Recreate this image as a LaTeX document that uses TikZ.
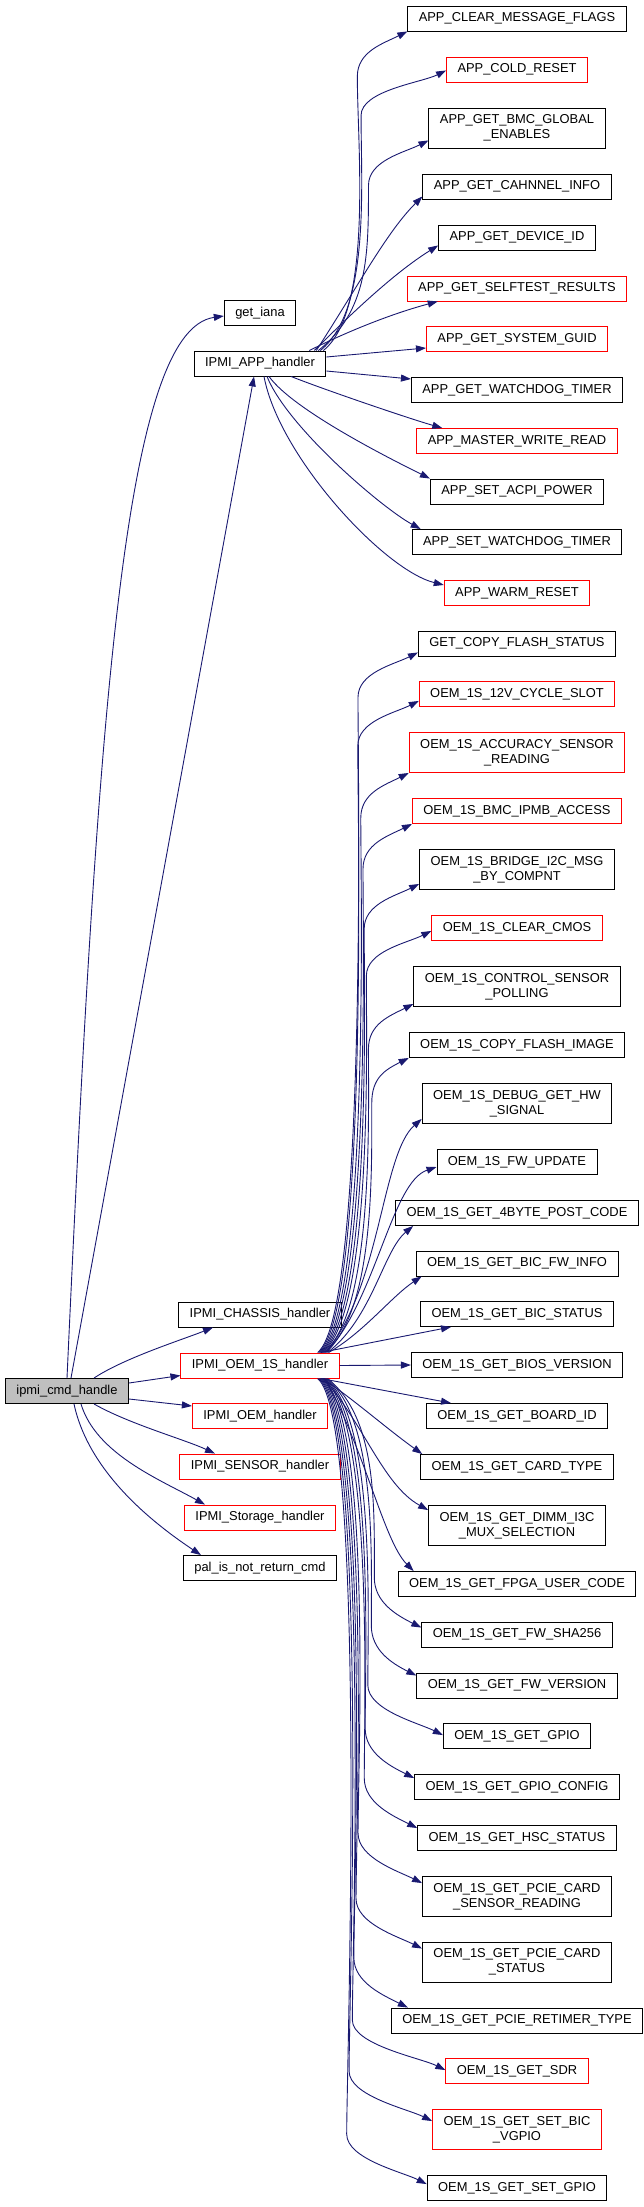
\documentclass[tikz,border=0pt]{standalone}
\usepackage{fontspec}
\setmainfont{Liberation Sans}
\usetikzlibrary{arrows.meta,calc}
\definecolor{edgeblue}{RGB}{25,25,112}
\definecolor{truncred}{RGB}{255,0,0}
\definecolor{rootgray}{RGB}{191,191,191}
\tikzset{
  fn/.style={draw=black,line width=0.9pt,fill=white,inner xsep=11pt,inner ysep=5pt,minimum height=25pt,align=center,font=\fontsize{12.9pt}{15pt}\selectfont},
  fntwo/.style={fn,minimum height=40pt},
  trunc/.style={draw=truncred},
  root/.style={fill=rootgray},
  call/.style={edgeblue,line width=0.9pt,-{Triangle[length=10pt,width=7pt]}}
}
\begin{document}
\begin{tikzpicture}[x=1pt,y=-1pt]
  \useasboundingbox (0,0) rectangle (644,2207);
  % caller
  \node[fn,root] (cmdh) at (67,1391) {ipmi\_cmd\_handle};
  % handlers
  \node[fn] (getiana) at (260,313) {get\_iana};
  \node[fn] (apph) at (260,363.5) {IPMI\_APP\_handler};
  \node[fn] (chassis) at (260,1314.5) {IPMI\_CHASSIS\_handler};
  \node[fn,trunc] (oem1s) at (260,1365.5) {IPMI\_OEM\_1S\_handler};
  \node[fn,trunc] (oemh) at (260,1416) {IPMI\_OEM\_handler};
  \node[fn,trunc] (sensorh) at (260,1466.5) {IPMI\_SENSOR\_handler};
  \node[fn,trunc] (storageh) at (260,1517.5) {IPMI\_Storage\_handler};
  \node[fn] (palcmd) at (260,1568) {pal\_is\_not\_return\_cmd};
  % APP commands
  \node[fn] (appclear) at (517,18.5) {APP\_CLEAR\_MESSAGE\_FLAGS};
  \node[fn,trunc] (appcold) at (517,69.5) {APP\_COLD\_RESET};
  \node[fntwo] (appbmc) at (517,128) {APP\_GET\_BMC\_GLOBAL\\\_ENABLES};
  \node[fn] (appchan) at (517,186.5) {APP\_GET\_CAHNNEL\_INFO};
  \node[fn] (appdevid) at (517,237.5) {APP\_GET\_DEVICE\_ID};
  \node[fn,trunc] (appself) at (517,288.5) {APP\_GET\_SELFTEST\_RESULTS};
  \node[fn,trunc] (appguid) at (517,339) {APP\_GET\_SYSTEM\_GUID};
  \node[fn] (appwdtget) at (517,390) {APP\_GET\_WATCHDOG\_TIMER};
  \node[fn,trunc] (appmaster) at (517,441) {APP\_MASTER\_WRITE\_READ};
  \node[fn] (appacpi) at (517,491.5) {APP\_SET\_ACPI\_POWER};
  \node[fn] (appwdtset) at (517,542) {APP\_SET\_WATCHDOG\_TIMER};
  \node[fn,trunc] (appwarm) at (517,593) {APP\_WARM\_RESET};
  % OEM 1S commands
  \node[fn] (copystat) at (517,643.5) {GET\_COPY\_FLASH\_STATUS};
  \node[fn,trunc] (cycle) at (517,694) {OEM\_1S\_12V\_CYCLE\_SLOT};
  \node[fntwo,trunc] (accuracy) at (517,752.5) {OEM\_1S\_ACCURACY\_SENSOR\\\_READING};
  \node[fn,trunc] (ipmb) at (517,811) {OEM\_1S\_BMC\_IPMB\_ACCESS};
  \node[fntwo] (bridge) at (517,869.5) {OEM\_1S\_BRIDGE\_I2C\_MSG\\\_BY\_COMPNT};
  \node[fn,trunc] (cmos) at (517,928) {OEM\_1S\_CLEAR\_CMOS};
  \node[fntwo] (ctrlpoll) at (517,986.5) {OEM\_1S\_CONTROL\_SENSOR\\\_POLLING};
  \node[fn] (copyimg) at (517,1045) {OEM\_1S\_COPY\_FLASH\_IMAGE};
  \node[fntwo] (debughw) at (517,1103.5) {OEM\_1S\_DEBUG\_GET\_HW\\\_SIGNAL};
  \node[fn] (fwupdate) at (517,1162) {OEM\_1S\_FW\_UPDATE};
  \node[fn] (postcode) at (517,1213) {OEM\_1S\_GET\_4BYTE\_POST\_CODE};
  \node[fn] (bicfw) at (517,1263.5) {OEM\_1S\_GET\_BIC\_FW\_INFO};
  \node[fn] (bicstat) at (517,1314) {OEM\_1S\_GET\_BIC\_STATUS};
  \node[fn] (biosver) at (517,1365) {OEM\_1S\_GET\_BIOS\_VERSION};
  \node[fn] (boardid) at (517,1416) {OEM\_1S\_GET\_BOARD\_ID};
  \node[fn] (cardtype) at (517,1467) {OEM\_1S\_GET\_CARD\_TYPE};
  \node[fntwo] (dimm) at (517,1525.5) {OEM\_1S\_GET\_DIMM\_I3C\\\_MUX\_SELECTION};
  \node[fn] (fpga) at (517,1584) {OEM\_1S\_GET\_FPGA\_USER\_CODE};
  \node[fn] (sha) at (517,1634.5) {OEM\_1S\_GET\_FW\_SHA256};
  \node[fn] (fwver) at (517,1685.5) {OEM\_1S\_GET\_FW\_VERSION};
  \node[fn] (gpio) at (517,1736) {OEM\_1S\_GET\_GPIO};
  \node[fn] (gpiocfg) at (517,1787) {OEM\_1S\_GET\_GPIO\_CONFIG};
  \node[fn] (hsc) at (517,1838) {OEM\_1S\_GET\_HSC\_STATUS};
  \node[fntwo] (pciesens) at (517,1896.5) {OEM\_1S\_GET\_PCIE\_CARD\\\_SENSOR\_READING};
  \node[fntwo] (pciestat) at (517,1962) {OEM\_1S\_GET\_PCIE\_CARD\\\_STATUS};
  \node[fn] (retimer) at (517,2020.5) {OEM\_1S\_GET\_PCIE\_RETIMER\_TYPE};
  \node[fn,trunc] (sdr) at (517,2071) {OEM\_1S\_GET\_SDR};
  \node[fntwo,trunc] (bicvgpio) at (517,2129.5) {OEM\_1S\_GET\_SET\_BIC\\\_VGPIO};
  \node[fn] (setgpio) at (517,2188) {OEM\_1S\_GET\_SET\_GPIO};

  % calls from ipmi_cmd_handle
  \draw[call] (cmdh.north) .. controls +(31,-678) and +(-99,14) .. ([yshift=-3pt]getiana.west);
  \draw[call] ([xshift=4pt]cmdh.north) -- ([xshift=-6pt]apph.south);
  \draw[call] ([xshift=27pt]cmdh.north) .. controls +(30,-20) and +(-30,12) .. ([xshift=-47pt]chassis.south);
  \draw[call] ([yshift=8pt]cmdh.east) -- ([yshift=-10pt]oem1s.west);
  \draw[call] ([yshift=-8pt]cmdh.east) -- ([yshift=10pt]oemh.west);
  \draw[call] ([xshift=27pt]cmdh.south) .. controls +(35,20) and +(-30,-14) .. ([xshift=-45pt]sensorh.north);
  \draw[call] ([xshift=14pt]cmdh.south) .. controls +(15,50) and +(-45,-25) .. ([xshift=-55pt]storageh.north);
  \draw[call] ([xshift=7pt]cmdh.south) .. controls +(15,70) and +(-45,-30) .. ([xshift=-59pt]palcmd.north);

  % calls from IPMI_APP_handler
  \foreach \n/\s/\dx/\u in {appclear/3/-50/0, appcold/6/-85/12, appbmc/8/-60/8}
    \draw[call] ([xshift=-\s pt]apph.north east) .. controls +(50,-40) and +(0,70) .. ($(\n.south west)+(\dx,45-\u)$) .. controls +(0,-25) and +(-24,12) .. ([yshift=\u pt]\n.south west);
  \draw[call] ([xshift=-10pt]apph.north east) .. controls +(45,-70) and +(-35,35) .. ([yshift=3pt]appchan.south west);
  \draw[call] ([xshift=-12pt]apph.north east) .. controls +(45,-45) and +(-40,25) .. ([yshift=5pt]appdevid.south west);
  \draw[call] ([xshift=-17pt]apph.north east) .. controls +(40,-20) and +(-45,12) .. ([xshift=31pt]appself.south west);
  \draw[call] ([yshift=6.5pt]apph.east) -- ([yshift=-9pt]appguid.west);
  \draw[call] ([yshift=-7.5pt]apph.east) -- ([yshift=11pt]appwdtget.west);
  \draw[call] ([xshift=31pt]apph.south) .. controls +(30,12) and +(-35,-10) .. ([xshift=26pt]appmaster.north west);
  \draw[call] ([xshift=9pt]apph.south) .. controls +(25,35) and +(-30,-15) .. (appacpi.north west);
  \draw[call] ([xshift=7pt]apph.south) .. controls +(20,50) and +(-40,-22) .. ([xshift=9pt]appwdtset.north west);
  \draw[call] ([xshift=4pt]apph.south) .. controls +(15,80) and +(-60,-15) .. ([yshift=8pt]appwarm.west);

  % calls from IPMI_OEM_1S_handler, upwards
  \foreach \n/\s/\dx/\u in {copystat/22/-60/4, cycle/21/-61/6, accuracy/20/-48/0, ipmb/19/-49/0,
                            bridge/18/-55/6, cmos/17/-65/10, ctrlpoll/16/-45/3, copyimg/15/-37/0}
    \draw[call] ([xshift=-\s pt]oem1s.north east) .. controls +(50,-40) and +(0,70) .. ($(\n.south west)+(\dx,45-\u)$) .. controls +(0,-25) and +(-24,12) .. ([yshift=\u pt]\n.south west);
  \draw[call] ([xshift=-14pt]oem1s.north east) .. controls +(55,-65) and +(-40,35) .. ([yshift=5pt]debughw.south west);
  \draw[call] ([xshift=-13pt]oem1s.north east) .. controls +(50,-55) and +(-45,15) .. ([yshift=-5pt]fwupdate.west);
  \draw[call] ([xshift=-12pt]oem1s.north east) .. controls +(45,-35) and +(-30,25) .. ([xshift=18pt]postcode.south west);
  \draw[call] ([xshift=-11pt]oem1s.north east) .. controls +(35,-20) and +(-30,20) .. ([xshift=6pt]bicfw.south west);
  \draw[call] ([xshift=-19pt]oem1s.north east) -- ([xshift=-66pt]bicstat.south);
  \draw[call] (oem1s.east) -- (biosver.west);
  \draw[call] ([xshift=-19pt]oem1s.south east) -- ([xshift=-66pt]boardid.north);

  % calls from IPMI_OEM_1S_handler, downwards
  \draw[call] ([xshift=-17pt]oem1s.south east) .. controls +(30,20) and +(-35,-25) .. ([xshift=2pt]cardtype.north west);
  \draw[call] ([xshift=-16pt]oem1s.south east) .. controls +(40,45) and +(-45,-25) .. ([yshift=-5pt]dimm.north west);
  \draw[call] ([xshift=-15pt]oem1s.south east) .. controls +(40,70) and +(-30,-30) .. ([xshift=16pt]fpga.north west);
  \foreach \n/\s/\dx/\h/\u in {sha/12/-47/0/6, fwver/13/-45/0/3, gpio/14/-75/0/12, gpiocfg/15/-49/0/4,
                               hsc/16/-53/0/3, pciesens/17/-64/0/7, pciestat/18/-66/0/7, retimer/19/-54/17/0,
                               sdr/20/-93/0/12, bicvgpio/21/-83/0/12, setgpio/22/-80/0/9}
    \draw[call] ([xshift=-\s pt]oem1s.south east) .. controls +(50,40) and +(0,-70) .. ($(\n.north west)+(\h+\dx,-50+\u)$) .. controls +(0,25) and +(-24,-12) .. ([xshift=\h pt,yshift=-\u pt]\n.north west);
\end{tikzpicture}
\end{document}
